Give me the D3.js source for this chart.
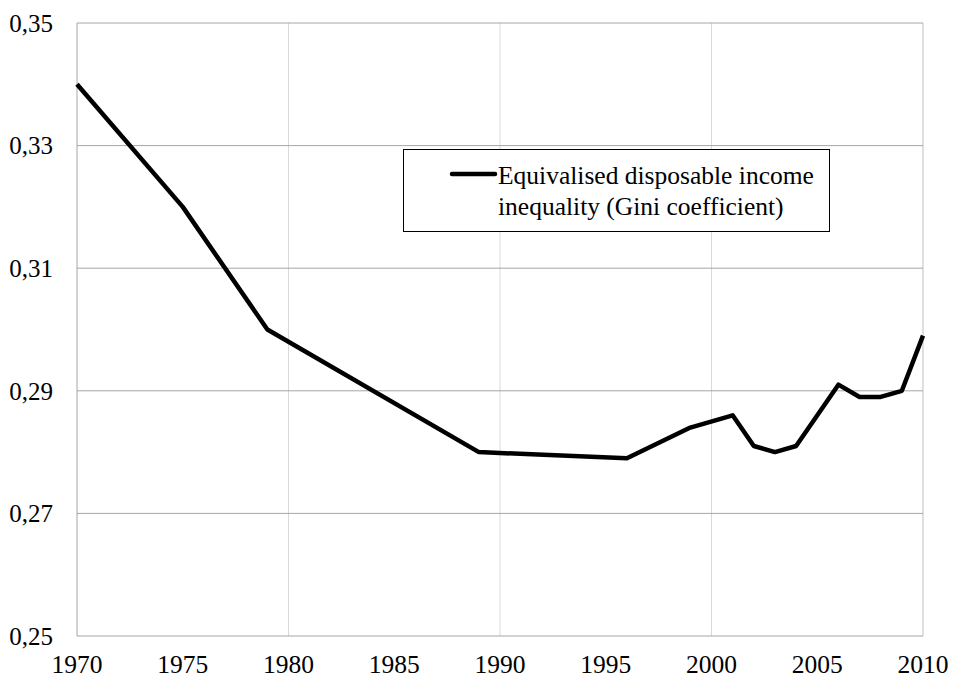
<!DOCTYPE html>
<html>
<head>
<meta charset="utf-8">
<script src="https://cdn.jsdelivr.net/npm/d3@7"></script>
<style>
  body { margin: 0; background: #fff; }
  svg { display: block; }
</style>
</head>
<body>
<svg id="chart"></svg>
<script>
"use strict";

// Gini coefficient by year
var years = [1970, 1975, 1979, 1989, 1996, 1999, 2001, 2002, 2003, 2004, 2006, 2007, 2008, 2009, 2010];
var gini  = [0.340, 0.320, 0.300, 0.280, 0.279, 0.284, 0.286, 0.281, 0.280, 0.281, 0.291, 0.289, 0.289, 0.290, 0.299];
var xTicks = [1970, 1975, 1980, 1985, 1990, 1995, 2000, 2005, 2010];
var xGrid = [1980, 1990, 2000, 2010];
var yTicks = [0.25, 0.27, 0.29, 0.31, 0.33, 0.35];
var legendLines = ["Equivalised disposable income", "inequality (Gini coefficient)"];

var FONT = "'Liberation Serif', 'Tinos', 'DejaVu Serif', 'Noto Serif', 'FreeSerif', 'Nimbus Roman', 'Times New Roman', Times, serif";

var width = 953, height = 678;
var margin = {top: 23, right: 30, bottom: 42, left: 77};

var svg = d3.select("#chart")
    .attr("width", width)
    .attr("height", height)
    .attr("font-family", FONT);

var x = d3.scaleLinear()
    .domain([1970, 2010])
    .range([margin.left, width - margin.right]);
var y = d3.scaleLinear()
    .domain([0.25, 0.35])
    .range([height - margin.bottom, margin.top]);

var fmt = d => d.toFixed(2).replace(".", ",");

// vertical grid (light)
svg.append("g")
    .selectAll("line")
    .data(xGrid)
    .enter()
    .append("line")
    .attr("x1", d => x(d)).attr("x2", d => x(d))
    .attr("y1", y(0.35)).attr("y2", y(0.25))
    .style("stroke", d => d == 2010 ? "#bfbfbf" : "#d9d9d9")
    .style("stroke-width", 1);

// horizontal grid (darker)
svg.append("g")
    .selectAll("line")
    .data(yTicks)
    .enter()
    .append("line")
    .attr("x1", x(1970)).attr("x2", x(2010))
    .attr("y1", d => y(d)).attr("y2", d => y(d))
    .style("stroke", "#a6a6a6")
    .style("stroke-width", 1);

// left axis line
svg.append("line")
    .attr("x1", x(1970)).attr("x2", x(1970))
    .attr("y1", y(0.35)).attr("y2", y(0.25))
    .style("stroke", "#a6a6a6");

// y labels
svg.append("g")
    .selectAll("text")
    .data(yTicks)
    .enter()
    .append("text")
    .attr("x", 53)
    .attr("y", d => y(d))
    .attr("dy", "0.35em")
    .attr("text-anchor", "end")
    .attr("font-family", FONT)
    .style("font-size", "25px")
    .text(fmt);

// x labels
svg.append("g")
    .selectAll("text")
    .data(xTicks)
    .enter()
    .append("text")
    .attr("x", d => x(d))
    .attr("y", 673)
    .attr("text-anchor", "middle")
    .attr("font-family", FONT)
    .style("font-size", "25.5px")
    .text(d => d);

// series
var line = d3.line()
    .x((d, i) => x(years[i]))
    .y(d => y(d));

svg.append("path")
    .datum(gini)
    .attr("d", line)
    .style("fill", "none")
    .style("stroke", "#000")
    .style("stroke-width", 4.5)
    .style("stroke-linejoin", "round");

// legend
var lg = svg.append("g");
lg.append("rect")
    .attr("x", 403.5).attr("y", 149.5)
    .attr("width", 426).attr("height", 82)
    .style("fill", "#fff")
    .style("stroke", "#000")
    .style("stroke-width", 1);
lg.append("line")
    .attr("x1", 452).attr("x2", 495)
    .attr("y1", 174).attr("y2", 174)
    .style("stroke", "#000")
    .style("stroke-width", 4.5)
    .style("stroke-linecap", "round");
lg.selectAll("text")
    .data(legendLines)
    .enter()
    .append("text")
    .attr("x", 498)
    .attr("y", (d, i) => 184 + i * 31)
    .attr("font-family", FONT)
    .style("font-size", "25.5px")
    .text(d => d);
</script>
</body>
</html>
